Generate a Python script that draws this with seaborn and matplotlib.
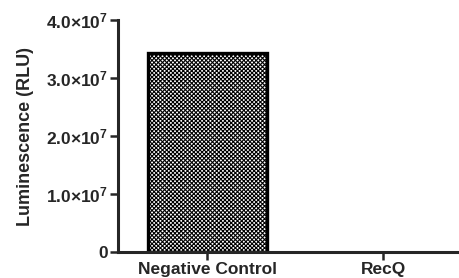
import matplotlib
matplotlib.use("Agg")
import matplotlib.pyplot as plt
import pandas as pd
import seaborn as sns

groups = ["Negative Control", "RecQ"]
luminescence = [3.43e7, 0.0]
yticks = [0, 1e7, 2e7, 3e7, 4e7]
ytick_labels = ["0", r"1.0$\times$10$^7$", r"2.0$\times$10$^7$",
                r"3.0$\times$10$^7$", r"4.0$\times$10$^7$"]

sns.set_style("ticks")
plt.rcParams["font.family"] = ["Liberation Sans", "DejaVu Sans"]
plt.rcParams["font.weight"] = "bold"
plt.rcParams["mathtext.fontset"] = "custom"
plt.rcParams["mathtext.rm"] = "Liberation Sans:bold"
plt.rcParams["mathtext.default"] = "rm"
plt.rcParams["hatch.linewidth"] = 0.8
plt.rcParams["hatch.color"] = "#2a2a2a"

df = pd.DataFrame({"group": groups, "value": luminescence})

fig = plt.figure(figsize=(4.59, 2.78), dpi=100)
ax = fig.add_axes([0.257, 0.093, 0.743, 0.835])
sns.barplot(data=df, x="group", y="value", ax=ax, color="white",
            width=0.676, edgecolor="black", linewidth=2.4, saturation=1)
for p in ax.patches:
    p.set_hatch("xxxxxxxx")
    # an empty bar shows no outline in the reference
    if p.get_height() == 0:
        p.set_linewidth(0)

ax.set_xlim(-0.506, 1.43)
ax.set_ylim(0, 4e7)
ax.set_yticks(yticks)
ax.set_yticklabels(ytick_labels)
ax.set_xlabel("")
ax.set_ylabel("Luminescence (RLU)", fontsize=13, fontweight="bold", labelpad=9)
ax.tick_params(axis="both", labelsize=12.5, width=1.8, length=6, direction="out", pad=1)
for s in ["left", "bottom"]:
    ax.spines[s].set_linewidth(2.2)
sns.despine(ax=ax)

fig.savefig("out.png", dpi=100)
